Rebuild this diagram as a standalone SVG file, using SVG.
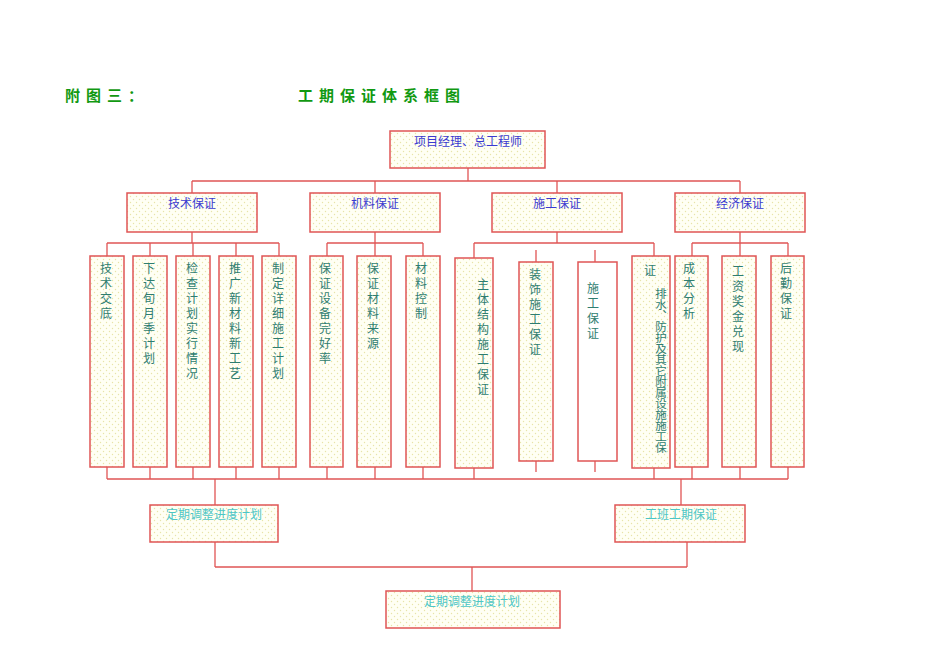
<svg xmlns="http://www.w3.org/2000/svg" width="950" height="672" viewBox="0 0 950 672">
<defs>
<pattern id="dots" width="6" height="6" patternUnits="userSpaceOnUse"><rect width="6" height="6" fill="#fffff4"/><circle cx="1.5" cy="1.5" r="0.7" fill="#e8e4a8"/><circle cx="4.5" cy="4.5" r="0.7" fill="#e8e4a8"/></pattern>
<style>
.b{fill:url(#dots);stroke:#e05555;stroke-width:1.5}
.w{fill:#fff;stroke:#e05555;stroke-width:1.5}
.c{fill:none;stroke:#e05555;stroke-width:1.3}
text{font-family:"Noto Sans CJK SC",sans-serif;font-size:12px}
.h{fill:#3a3ad0;text-anchor:middle}
.v{fill:#2e7d70;writing-mode:tb;letter-spacing:3px}
.g{fill:#4cc6c6;text-anchor:middle}
.t{fill:#119911;font-size:15px;font-weight:bold;letter-spacing:6px}
</style>
</defs>
<text class="t" x="65" y="101">附图三：</text>
<text class="t" x="298" y="101">工期保证体系框图</text>
<g id="connectors" class="c">
<path d="M468 168V181M192 181H740M192 181V193M375 181V193M557 181V193M740 181V193"/>
<path d="M192 232V243M107 243H279M107 243V256M150 243V256M193 243V256M236 243V256M279 243V256"/>
<path d="M375 232V256M327 243H423M327 243V256M423 243V256"/>
<path d="M557 232V243M474 243H654M474 243V258M654 243V256M536 250V262M595 250V262"/>
<path d="M740 232V256M692 243H788M692 243V256M788 243V256"/>
<path d="M107 467V479M150 467V479M193 467V479M236 467V479M279 467V479M327 467V479M375 467V479M423 467V479M474 468V479M654 468V479M692 467V479M740 467V479M788 467V479M536 461V472M595 461V472M107 479H788"/>
<path d="M215 479V505M681 479V505M215 542V567M687 542V567M215 567H687M472 567V591"/>
</g>
<g id="n0"><rect class="b" x="390" y="131" width="155" height="37"/><text class="h" x="468" y="146">项目经理、总工程师</text></g>
<g id="n1"><rect class="b" x="127" y="193" width="130" height="39"/><text class="h" x="192" y="208">技术保证</text></g>
<g id="n2"><rect class="b" x="310" y="193" width="130" height="39"/><text class="h" x="375" y="208">机料保证</text></g>
<g id="n3"><rect class="b" x="492" y="193" width="130" height="39"/><text class="h" x="557" y="208">施工保证</text></g>
<g id="n4"><rect class="b" x="675" y="193" width="130" height="39"/><text class="h" x="740" y="208">经济保证</text></g>
<g id="l1"><rect class="b" x="90" y="256" width="34" height="211"/><text class="v" x="106" y="262">技术交底</text></g>
<g id="l2"><rect class="b" x="133" y="256" width="34" height="211"/><text class="v" x="149" y="262">下达旬月季计划</text></g>
<g id="l3"><rect class="b" x="176" y="256" width="34" height="211"/><text class="v" x="192" y="262">检查计划实行情况</text></g>
<g id="l4"><rect class="b" x="219" y="256" width="34" height="211"/><text class="v" x="235" y="262">推广新材料新工艺</text></g>
<g id="l5"><rect class="b" x="262" y="256" width="34" height="211"/><text class="v" x="278" y="262">制定详细施工计划</text></g>
<g id="l6"><rect class="b" x="310" y="256" width="33" height="211"/><text class="v" x="325" y="262">保证设备完好率</text></g>
<g id="l7"><rect class="b" x="357" y="256" width="34" height="211"/><text class="v" x="373" y="262">保证材料来源</text></g>
<g id="l8"><rect class="b" x="406" y="256" width="34" height="211"/><text class="v" x="421" y="262">材料控制</text></g>
<g id="l9"><rect class="b" x="455" y="258" width="38" height="210"/><text class="v" x="483" y="278">主体结构施工保证</text></g>
<g id="l10"><rect class="b" x="519" y="262" width="34" height="199"/><text class="v" x="535" y="268">装饰施工保证</text></g>
<g id="l11"><rect class="w" x="578" y="262" width="39" height="199"/><text class="v" x="593" y="282">施工保证</text></g>
<g id="l12"><rect class="b" x="632" y="256" width="38" height="212"/><text x="644" y="275" style="fill:#2e7d70">证</text><text class="v" x="661" y="288" style="letter-spacing:-0.5px;font-size:11.5px">排水、防护及其它附属设施施工保</text></g>
<g id="l13"><rect class="b" x="675" y="256" width="33" height="211"/><text class="v" x="689" y="262">成本分析</text></g>
<g id="l14"><rect class="b" x="722" y="256" width="34" height="211"/><text class="v" x="738" y="265">工资奖金兑现</text></g>
<g id="l15"><rect class="b" x="771" y="256" width="33" height="211"/><text class="v" x="786" y="262">后勤保证</text></g>
<g id="m1"><rect class="b" x="150" y="505" width="128" height="37"/><text class="g" x="214" y="519">定期调整进度计划</text></g>
<g id="m2"><rect class="b" x="615" y="505" width="130" height="37"/><text class="g" x="681" y="519">工班工期保证</text></g>
<g id="m3"><rect class="b" x="386" y="591" width="174" height="37"/><text class="g" x="472" y="606">定期调整进度计划</text></g>
</svg>
